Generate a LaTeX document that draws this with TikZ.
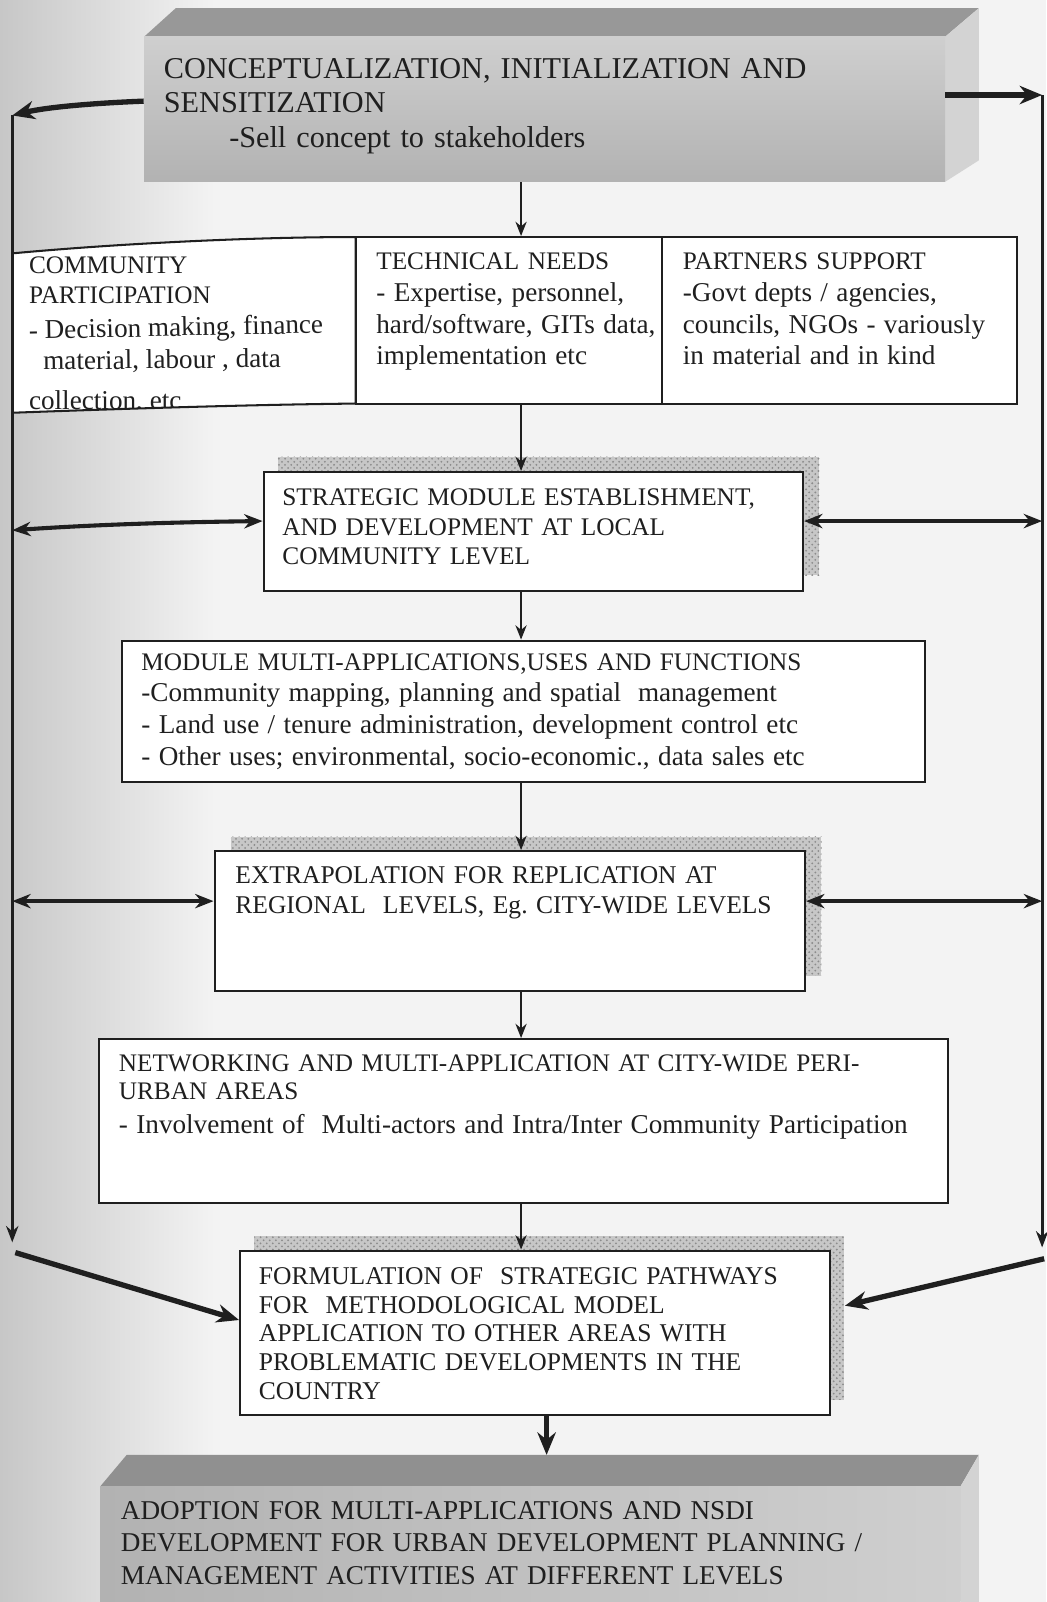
\documentclass[tikz,border=0pt]{standalone}
\usepackage{fontspec}
\setmainfont{Liberation Serif}
\usetikzlibrary{arrows.meta,patterns,fit,calc}

\definecolor{paper}{HTML}{F3F3F3}
\definecolor{ink}{HTML}{1F1F1F}
\definecolor{topface}{HTML}{989898}
\definecolor{frontlight}{HTML}{CFCFCF}
\definecolor{frontdark}{HTML}{B2B2B2}
\definecolor{sideface}{HTML}{D3D3D3}
\definecolor{hatch}{HTML}{8C8C8C}

% capitals are set a little smaller than running lower-case lines
\newcommand\capsz{\fontsize{12.35}{15.5}\selectfont}
\newcommand\lc[1]{{\fontsize{13.3}{15.5}\selectfont #1}}

\tikzset{
  frame/.style={draw=ink, line width=1pt, fill=white, inner sep=0pt},
  area/.style={inner sep=0pt},
  hatched/.style={preaction={fill=black!22}, pattern=crosshatch dots, pattern color=hatch},
  flow/.style={draw=ink, line width=0.8pt, -{Stealth[length=7pt,width=5.5pt]}},
  rail/.style={draw=ink, line width=1.4pt, -{Stealth[length=8pt,width=6pt]}},
  heavy/.style={draw=ink, line width=2.6pt, -{Stealth[length=11pt,width=9pt]}},
  twoway/.style={draw=ink, line width=2pt, {Stealth[length=9pt,width=7pt]}-{Stealth[length=9pt,width=7pt]}},
  txt/.style={anchor=base west, inner sep=0pt, align=left, text=ink, text width=470pt},
  body/.style={txt, font=\capsz},
  single/.style={anchor=base west, inner sep=0pt, text=ink},
}

\begin{document}
\frenchspacing
\begin{tikzpicture}[x=0.5pt, y=-0.5pt]
\useasboundingbox (0,0) rectangle (1024,1568);

% paper with a darker binding edge on the left
\fill[paper] (0,0) rectangle (1024,1568);
\shade[left color=black!22, right color=paper] (0,0) rectangle (210,1568);

% ---------- top block (3D bar) ----------
\fill[topface] (141,36) -- (172,8) -- (958,8) -- (925,36) -- cycle;
\fill[sideface] (925,36) -- (958,8) -- (958,157) -- (925,178) -- cycle;
\node[fit={(141,36) (925,178)}, area, top color=frontlight, bottom color=frontdark] (concept) {};
\node[txt, font=\fontsize{14.8}{16.75}\selectfont] (conceptText) at (160,77)
  {CONCEPTUALIZATION, INITIALIZATION AND\\SENSITIZATION\\\hspace*{32pt}-Sell concept to stakeholders};

% reference lines
\coordinate (spine) at (510,0);
\coordinate (ltop) at (12,113);
\coordinate (lbot) at (12,1216);
\coordinate (rtop) at (1020,93);
\coordinate (rbot) at (1020,1221);

% ---------- three-column row ----------
\node[fit={(348,232) (648,395)}, frame] (tech) {};
\node[fit={(648,232) (995,395)}, frame] (partners) {};
\path[draw=ink, line width=1pt, fill=white] (12,248) .. controls (120,238) and (250,232) .. (348,232)
  -- (348,395) .. controls (250,396) and (120,400) .. (12,404) -- cycle;
\begin{scope}
  \clip (12,248) .. controls (120,238) and (250,232) .. (348,232)
    -- (348,395) .. controls (250,396) and (120,400) .. (12,404) -- cycle;
  \node[single, font=\capsz] (commA) at (28,268) {COMMUNITY};
  \node[single, font=\capsz] (commB) at (28,297) {PARTICIPATION};
  \node[single, rotate=1.2] (commC) at (28,332) {\lc{- Decision making, finance}};
  \node[single, rotate=0.6] (commD) at (42,362) {\lc{material, labour , data}};
  \node[single] (commE) at (28,401) {\lc{collection, etc}};
\end{scope}
\node[body] (techText) at (368,264)
  {TECHNICAL NEEDS\\\lc{- Expertise, personnel,}\\\lc{hard/software, GITs data,}\\\lc{implementation etc}};
\node[body] (partText) at (668,264)
  {PARTNERS SUPPORT\\\lc{-Govt depts / agencies,}\\\lc{councils, NGOs - variously}\\\lc{in material and in kind}};

% ---------- strategic module ----------
\fill[hatched] (272,447) rectangle (802,462);
\fill[hatched] (786,447) rectangle (802,563);
\node[fit={(258,462) (786,578)}, frame] (strat) {};
\node[body, font=\fontsize{12.4}{14.5}\selectfont] (stratText) at (276,495)
  {STRATEGIC MODULE ESTABLISHMENT,\\AND DEVELOPMENT AT LOCAL\\COMMUNITY LEVEL};

% ---------- multi-applications ----------
\node[fit={(119,627) (905,765)}, frame] (module) {};
\node[body] (moduleText) at (138,656)
  {MODULE MULTI-APPLICATIONS,USES AND FUNCTIONS\\\lc{-Community mapping, planning and spatial\ \ management}\\\lc{- Land use / tenure administration, development control etc}\\\lc{- Other uses; environmental, socio-economic., data sales etc}};

% ---------- extrapolation ----------
\fill[hatched] (226,819) rectangle (804,833);
\fill[hatched] (788,819) rectangle (804,955);
\node[fit={(210,833) (788,970)}, frame] (extrap) {};
\node[body, font=\fontsize{12.5}{14.5}\selectfont] (extrapText) at (230,865)
  {EXTRAPOLATION FOR REPLICATION AT\\REGIONAL\ \ LEVELS, Eg. CITY-WIDE LEVELS};

% ---------- networking ----------
\node[fit={(97,1017) (928,1177)}, frame] (network) {};
\node[body, font=\fontsize{12.35}{13.5}\selectfont] (networkText) at (116,1049)
  {NETWORKING AND MULTI-APPLICATION AT CITY-WIDE PERI-\\URBAN AREAS\\[3pt]\lc{- Involvement of\ \ Multi-actors and Intra/Inter Community Participation}};

% ---------- formulation ----------
\fill[hatched] (249,1210) rectangle (826,1224);
\fill[hatched] (812,1210) rectangle (826,1370);
\node[fit={(235,1224) (812,1385)}, frame] (formul) {};
\node[body, font=\fontsize{12.5}{14.1}\selectfont] (formulText) at (253,1257)
  {FORMULATION OF\ \ STRATEGIC PATHWAYS\\FOR\ \ METHODOLOGICAL MODEL\\APPLICATION TO OTHER AREAS WITH\\PROBLEMATIC DEVELOPMENTS IN THE\\COUNTRY};

% ---------- bottom block (3D bar) ----------
\fill[topface!95!black] (98,1455) -- (124,1424) -- (958,1424) -- (940,1455) -- cycle;
\fill[sideface] (940,1455) -- (958,1424) -- (958,1568) -- (940,1568) -- cycle;
\node[fit={(98,1455) (940,1568)}, area, left color=frontdark, right color=frontlight] (adopt) {};
\node[txt, font=\fontsize{13.3}{16}\selectfont] (adoptText) at (118,1487)
  {ADOPTION FOR MULTI-APPLICATIONS AND NSDI\\DEVELOPMENT FOR URBAN DEVELOPMENT PLANNING /\\MANAGEMENT ACTIVITIES AT DIFFERENT LEVELS};

% ---------- main vertical flow ----------
\draw[flow] (concept.south -| spine) -- (tech.north -| spine);
\draw[flow] (tech.south -| spine) -- (strat.north -| spine);
\draw[flow] (strat.south -| spine) -- (module.north -| spine);
\draw[flow] (module.south -| spine) -- (extrap.north -| spine);
\draw[flow] (extrap.south -| spine) -- (network.north -| spine);
\draw[flow] (network.south -| spine) -- (formul.north -| spine);
\coordinate (drop) at (535,1424);
\draw[heavy] (formul.south -| drop) -- (drop);

% ---------- side feedback rails ----------
\draw[heavy] ([yshift=4pt]concept.west) .. controls (90,101) and (45,105) .. (ltop);
\draw[heavy] ([yshift=7pt]concept.east) -- (rtop);
\draw[rail] (ltop) -- (lbot);
\draw[rail] (rtop) -- (rbot);

% two-way links between rails and stages
\draw[twoway] (12,519) .. controls (100,513) and (180,511) .. ([yshift=5pt]strat.west);
\draw[twoway] ([yshift=5pt]strat.east) -- (rtop |- 0,510);
\coordinate (extLevel) at (0,882);
\draw[twoway] (ltop |- extLevel) -- (extrap.west |- extLevel);
\draw[twoway] (extrap.east |- extLevel) -- (rtop |- extLevel);

% converging arrows into the formulation stage
\coordinate (lstart) at (15,1226);
\coordinate (rstart) at (1022,1232);
\coordinate (fR) at ([xshift=7pt]formul.east);
\draw[heavy] (lstart) -- (formul.west |- 0,1292);
\draw[heavy] (rstart) -- (fR |- 0,1278);
\end{tikzpicture}
\end{document}
